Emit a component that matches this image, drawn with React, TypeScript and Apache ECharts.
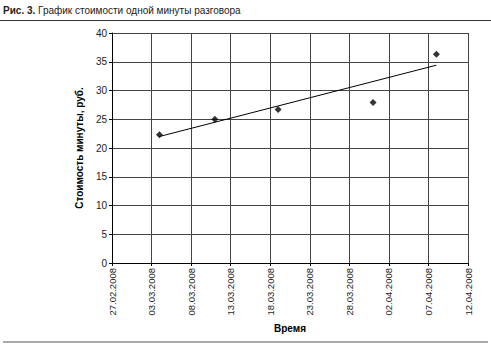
import React, { useEffect, useRef } from "react";
import * as echarts from "echarts";

const baseDate = "27.02.2008";
const pointDates = ["04.03.2008", "11.03.2008", "19.03.2008", "31.03.2008", "08.04.2008"];
const pointValues = [22.3, 25.0, 26.7, 27.9, 36.3];
const trendDates = ["04.03.2008", "08.04.2008"];
const trendValues = [22.0, 34.4];
const yTicks = [0, 5, 10, 15, 20, 25, 30, 35, 40];
const xRangeDays = [0, 45];

const titleBold = "Рис. 3.";
const titleRest = " График стоимости одной минуты разговора";
const yName = "Стоимость минуты, руб.";
const xName = "Время";

const DAY = 86400000;
function parse(d: string): number {
  const [dd, mm, yy] = d.split(".").map(Number);
  return Date.UTC(yy, mm - 1, dd);
}
const base = parse(baseDate);
function offset(d: string): number {
  return Math.round((parse(d) - base) / DAY);
}
function fmt(off: number): string {
  const dt = new Date(base + off * DAY);
  const p = (n: number) => (n < 10 ? "0" + n : "" + n);
  return p(dt.getUTCDate()) + "." + p(dt.getUTCMonth() + 1) + "." + dt.getUTCFullYear();
}

export default function App() {
  const ref = useRef<HTMLDivElement>(null);
  useEffect(() => {
    if (!ref.current) return;
    const chart = echarts.init(ref.current, undefined, { renderer: "svg" });
    const font = "Liberation Sans, Arial, sans-serif";
    chart.setOption({
      animation: false,
      backgroundColor: "#fff",
      grid: { left: 112, top: 33, right: 23, bottom: 89, containLabel: false },
      graphic: [
        {
          type: "text",
          left: 3,
          top: 5,
          style: {
            text: "{b|" + titleBold + "}{r|" + titleRest + "}",
            rich: {
              b: { fontWeight: "bold", fontSize: 10, fontFamily: font, fill: "#222" },
              r: { fontSize: 10, fontFamily: font, fill: "#222" },
            },
          },
        },
        {
          type: "line",
          shape: { x1: 0, y1: 20.5, x2: 491, y2: 20.5 },
          style: { stroke: "#333", lineWidth: 1 },
        },
        {
          type: "line",
          shape: { x1: 3, y1: 342, x2: 488, y2: 342 },
          style: { stroke: "#aaa", lineWidth: 2 },
        },
      ],
      xAxis: {
        type: "value",
        min: xRangeDays[0],
        max: xRangeDays[1],
        interval: 5,
        name: xName,
        nameLocation: "middle",
        nameGap: 60,
        nameTextStyle: { fontWeight: "bold", fontSize: 10, fontFamily: font, color: "#000" },
        axisLine: { onZero: false, lineStyle: { color: "#000", width: 1 } },
        axisTick: { show: true, length: 3, lineStyle: { color: "#000" } },
        axisLabel: {
          rotate: 90,
          fontSize: 9.5,
          fontFamily: font,
          color: "#222",
          margin: 5,
          formatter: (v: number) => fmt(v),
        },
        splitLine: { show: true, lineStyle: { color: "#444", width: 1 } },
      },
      yAxis: {
        type: "value",
        min: 0,
        max: yTicks[yTicks.length - 1],
        interval: yTicks[1] - yTicks[0],
        name: yName,
        nameLocation: "middle",
        nameGap: 27,
        nameTextStyle: { fontWeight: "bold", fontSize: 10, fontFamily: font, color: "#000" },
        axisLine: { show: true, lineStyle: { color: "#000", width: 1 } },
        axisTick: { show: true, length: 3, lineStyle: { color: "#000" } },
        axisLabel: { fontSize: 10, fontFamily: font, color: "#222", margin: 5 },
        splitLine: { show: true, lineStyle: { color: "#444", width: 1 } },
      },
      series: [
        {
          type: "line",
          data: trendDates.map((d, i) => [offset(d), trendValues[i]]),
          showSymbol: false,
          symbol: "none",
          lineStyle: { color: "#000", width: 1 },
          silent: true,
        },
        {
          type: "scatter",
          data: pointDates.map((d, i) => [offset(d), pointValues[i]]),
          symbol: "diamond",
          symbolSize: 7,
          itemStyle: { color: "#000" },
        },
      ],
    });
    return () => chart.dispose();
  }, []);
  return (
    <div
      ref={ref}
      style={{ position: "fixed", left: 0, top: 0, width: 491, height: 352 }}
    />
  );
}
